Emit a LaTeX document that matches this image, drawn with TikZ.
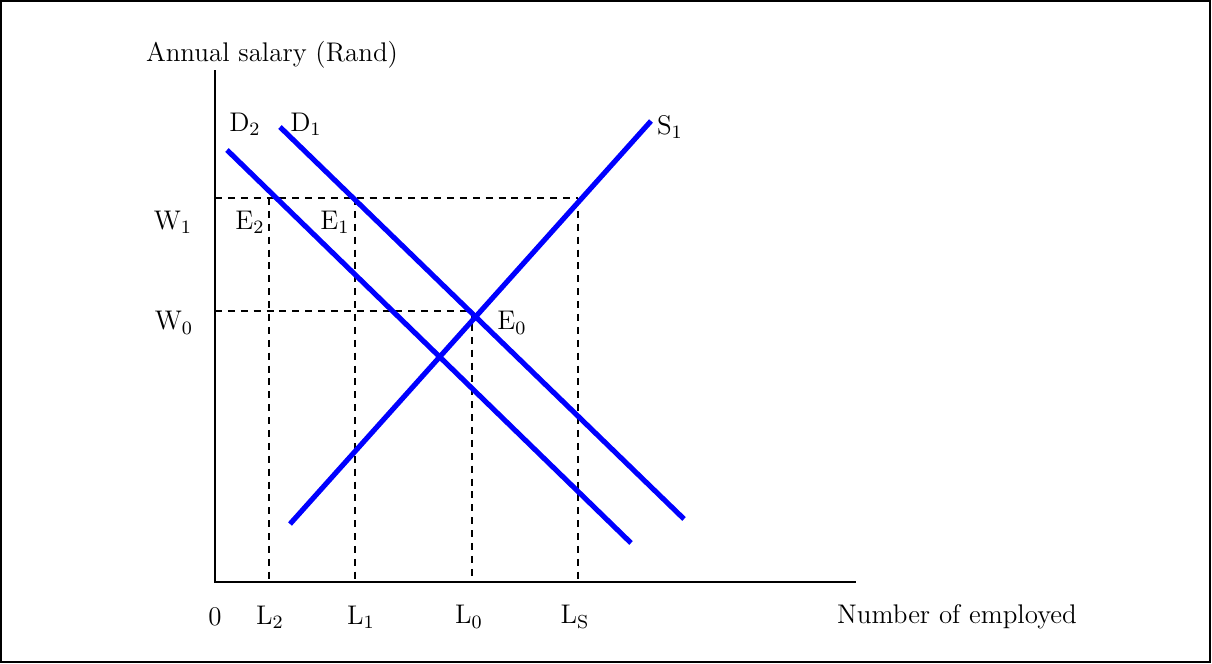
\documentclass[tikz,border=0pt]{standalone}
\usetikzlibrary{positioning}
\definecolor{CurveBlue}{RGB}{0,0,255}

\begin{document}
\begin{tikzpicture}[
      x=0.015cm, y=-0.015cm,
      every node/.style={font=\fontsize{11.5}{13}\selectfont, inner sep=0pt},
      axis/.style={draw=black, line width=0.9pt},
      guide/.style={draw=black, dashed, line width=0.6pt, dash pattern=on 3pt off 2.5pt},
      curve/.style={draw=CurveBlue, line width=2.2pt},
      framebox/.style={draw=black, line width=0.9pt},
    ]
      \useasboundingbox (0,0) rectangle (1212,664);
      \draw[framebox] (1,1) rectangle (1210,662);
      % Axes
      \coordinate (o) at (215,582);
      \coordinate (ytop) at (215,70);
      \coordinate (xend) at (856,582);
      \draw[axis] (ytop) -- (o) -- (xend);
      \node (ylab) at (272,55) {Annual salary (Rand)};
      \node (xlab) at (957,617) {Number of employed};
      \node (zero) at (215,617) {0};
      % Wage levels and employment levels
      \coordinate (w1) at (215,198);
      \coordinate (w0) at (215,311);
      \coordinate (e2) at (269,198);
      \coordinate (e1) at (355,198);
      \coordinate (es) at (578,198);
      \coordinate (e0) at (472,311);
      \coordinate (l2) at (269,582);
      \coordinate (l1) at (355,582);
      \coordinate (l0) at (472,582);
      \coordinate (ls) at (578,582);
      \draw[guide] (w1) -- (es);
      \draw[guide] (w0) -- (e0);
      \draw[guide] (e2) -- (l2);
      \draw[guide] (e1) -- (l1);
      \draw[guide] (e0) -- (l0);
      \draw[guide] (es) -- (ls);
      % Demand and supply curves
      \coordinate (d2a) at (227,150);
      \coordinate (d2b) at (631,543);
      \coordinate (d1a) at (280,127);
      \coordinate (d1b) at (684,519);
      \coordinate (s1a) at (290,524);
      \coordinate (s1b) at (651,121);
      \draw[curve] (d2a) -- (d2b);
      \draw[curve] (d1a) -- (d1b);
      \draw[curve] (s1a) -- (s1b);
      % Labels
      \node (d2lab) at (245,124) {D\textsubscript{2}};
      \node (d1lab) at (306,124) {D\textsubscript{1}};
      \node (s1lab) at (670,127) {S\textsubscript{1}};
      \node (w1lab) at (173,222) {W\textsubscript{1}};
      \node (e2lab) at (250,222) {E\textsubscript{2}};
      \node (e1lab) at (335,222) {E\textsubscript{1}};
      \node (w0lab) at (174,323) {W\textsubscript{0}};
      \node (e0lab) at (512,323) {E\textsubscript{0}};
      \node (l2lab) at (270,617) {L\textsubscript{2}};
      \node (l1lab) at (361,617) {L\textsubscript{1}};
      \node (l0lab) at (469,617) {L\textsubscript{0}};
      \node (lslab) at (575,617) {L\textsubscript{S}};
    \end{tikzpicture}
\end{document}
